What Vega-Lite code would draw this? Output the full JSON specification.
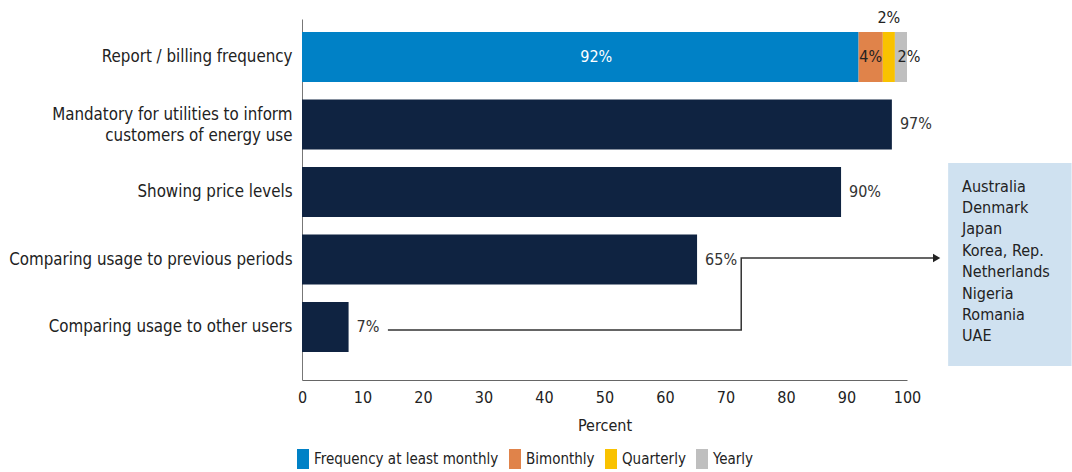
{
  "$schema": "https://vega.github.io/schema/vega-lite/v6.json",
  "width": 605,
  "height": 361,
  "autosize": {"type": "none"},
  "padding": {"left": 302, "top": 19, "right": 165, "bottom": 92},
  "background": "white",
  "config": {
    "font": "DejaVu Sans Condensed",
    "view": {"stroke": null},
    "text": {"font": "DejaVu Sans Condensed"},
    "axis": {"labelFont": "DejaVu Sans Condensed", "titleFont": "DejaVu Sans Condensed", "labelColor": "#222", "titleColor": "#222", "domainColor": "#666", "grid": false, "ticks": false, "labelLimit": 400},
    "legend": {"labelFont": "DejaVu Sans Condensed", "labelColor": "#222", "labelLimit": 400}
  },
  "datasets": {
    "navy": [
      {"cat": "Mandatory for utilities to inform|customers of energy use", "value": 97.5, "label": "97%"},
      {"cat": "Showing price levels", "value": 89.1, "label": "90%"},
      {"cat": "Comparing usage to previous periods", "value": 65.3, "label": "65%"},
      {"cat": "Comparing usage to other users", "value": 7.7, "label": "7%"}
    ],
    "freq": [
      {"cat": "Report / billing frequency", "type": "Frequency at least monthly", "value": 92, "ord": 1, "label": "92%"},
      {"cat": "Report / billing frequency", "type": "Bimonthly", "value": 4, "ord": 2, "label": "4%"},
      {"cat": "Report / billing frequency", "type": "Quarterly", "value": 2, "ord": 3, "label": "2%"},
      {"cat": "Report / billing frequency", "type": "Yearly", "value": 2, "ord": 4, "label": "2%"}
    ],
    "arrow": [
      {"x": 14.2, "ay": 5.044, "o": 1},
      {"x": 72.6, "ay": 5.044, "o": 2},
      {"x": 72.6, "ay": 3.978, "o": 3},
      {"x": 104.6, "ay": 3.978, "o": 4}
    ],
    "head": [{"x": 104.9, "ay": 3.978}],
    "box": [{"x": 106.8, "x2": 127.2, "ay": 2.57, "ay2": 5.578}],
    "boxtext": [{"x": 109.1, "ay": 2.8, "text": "Australia\nDenmark\nJapan\nKorea, Rep.\nNetherlands\nNigeria\nRomania\nUAE"}]
  },
  "layer": [
    {
      "encoding": {
        "y": {
          "field": "cat",
          "type": "nominal",
          "title": null,
          "sort": ["Report / billing frequency", "Mandatory for utilities to inform|customers of energy use", "Showing price levels", "Comparing usage to previous periods", "Comparing usage to other users"],
          "scale": {
            "domain": ["Report / billing frequency", "Mandatory for utilities to inform|customers of energy use", "Showing price levels", "Comparing usage to previous periods", "Comparing usage to other users"],
            "paddingInner": 0.259,
            "paddingOuter": 0.3035,
            "align": 0.317
          },
          "axis": {"labelFontSize": 16.8, "labelPadding": 10, "labelExpr": "split(datum.label, '|')", "labelLineHeight": 21, "domainColor": "#777",
            "labelOffset": {"condition": {"test": "indexof(datum.value, '|') >= 0", "value": -9}, "value": 0}}
        }
      },
      "layer": [
        {
          "data": {"name": "navy"},
          "mark": {"type": "bar", "color": "#0F2341"},
          "encoding": {
            "x": {"field": "value", "type": "quantitative", "scale": {"domain": [0, 100], "nice": false},
              "axis": {"values": [0, 10, 20, 30, 40, 50, 60, 70, 80, 90, 100], "title": "Percent", "titleFontSize": 16, "titleFontWeight": "normal", "labelFontSize": 16, "labelPadding": 9, "titlePadding": 12, "labelFlush": false}}
          }
        },
        {
          "data": {"name": "navy"},
          "mark": {"type": "text", "align": "left", "baseline": "middle", "dx": 8, "fontSize": 16, "color": "#333"},
          "encoding": {
            "x": {"field": "value", "type": "quantitative", "scale": {"domain": [0, 100]}},
            "text": {"field": "label"}
          }
        },
        {
          "data": {"name": "freq"},
          "mark": {"type": "bar"},
          "encoding": {
            "x": {"field": "value", "type": "quantitative", "stack": "zero", "scale": {"domain": [0, 100]}},
            "order": {"field": "ord"},
            "color": {
              "field": "type",
              "type": "nominal",
              "scale": {"domain": ["Frequency at least monthly", "Bimonthly", "Quarterly", "Yearly"], "range": ["#0081C6", "#E0834A", "#F9C200", "#BFBFBF"]},
              "legend": {"title": null, "orient": "bottom", "direction": "horizontal", "symbolType": "M-1.5,-1V1H-0.3V-1Z", "symbolSize": 400, "symbolStrokeWidth": 0, "labelFontSize": 15, "labelOffset": -8, "columnPadding": 10, "offset": 16}
            }
          }
        },
        {
          "data": {"name": "freq"},
          "transform": [
            {"window": [{"op": "sum", "field": "value", "as": "cum"}], "sort": [{"field": "ord"}]},
            {"calculate": "datum.cum - datum.value / 2", "as": "mid"}
          ],
          "layer": [
            {
              "transform": [{"filter": "datum.ord == 1"}],
              "mark": {"type": "text", "align": "center", "baseline": "middle", "dx": 16, "fontSize": 16, "color": "white"},
              "encoding": {"x": {"field": "mid", "type": "quantitative", "scale": {"domain": [0, 100]}}, "text": {"field": "label"}}
            },
            {
              "transform": [{"filter": "datum.ord == 2"}],
              "mark": {"type": "text", "align": "center", "baseline": "middle", "fontSize": 16, "color": "#222"},
              "encoding": {"x": {"field": "mid", "type": "quantitative", "scale": {"domain": [0, 100]}}, "text": {"field": "label"}}
            },
            {
              "transform": [{"filter": "datum.ord == 3"}],
              "mark": {"type": "text", "align": "center", "baseline": "middle", "dy": -39, "fontSize": 16, "color": "#222"},
              "encoding": {"x": {"field": "mid", "type": "quantitative", "scale": {"domain": [0, 100]}}, "text": {"field": "label"}}
            },
            {
              "transform": [{"filter": "datum.ord == 4"}],
              "mark": {"type": "text", "align": "center", "baseline": "middle", "dx": 8, "fontSize": 16, "color": "#222"},
              "encoding": {"x": {"field": "mid", "type": "quantitative", "scale": {"domain": [0, 100]}}, "text": {"field": "label"}}
            }
          ]
        }
      ]
    },
    {
      "encoding": {
        "y": {"field": "ay", "type": "quantitative", "title": null, "axis": null, "scale": {"domain": [0.437, 5.785], "reverse": true, "nice": false, "zero": false}}
      },
      "layer": [
        {
          "data": {"name": "box"},
          "mark": {"type": "rect", "color": "#CFE1F0"},
          "encoding": {
            "x": {"field": "x", "type": "quantitative", "scale": {"domain": [0, 100]}},
            "x2": {"field": "x2"},
            "y2": {"field": "ay2"}
          }
        },
        {
          "data": {"name": "boxtext"},
          "mark": {"type": "text", "align": "left", "baseline": "top", "lineBreak": "\n", "lineHeight": 21.4, "fontSize": 16, "color": "#222"},
          "encoding": {
            "x": {"field": "x", "type": "quantitative", "scale": {"domain": [0, 100]}},
            "text": {"field": "text"}
          }
        },
        {
          "data": {"name": "arrow"},
          "mark": {"type": "line", "color": "#333", "strokeWidth": 1.5},
          "encoding": {
            "x": {"field": "x", "type": "quantitative", "scale": {"domain": [0, 100]}},
            "order": {"field": "o"}
          }
        },
        {
          "data": {"name": "head"},
          "mark": {"type": "point", "shape": "triangle-right", "filled": true, "size": 70, "color": "#222", "opacity": 1},
          "encoding": {
            "x": {"field": "x", "type": "quantitative", "scale": {"domain": [0, 100]}}
          }
        }
      ]
    }
  ],
  "resolve": {"scale": {"y": "independent"}}
}
